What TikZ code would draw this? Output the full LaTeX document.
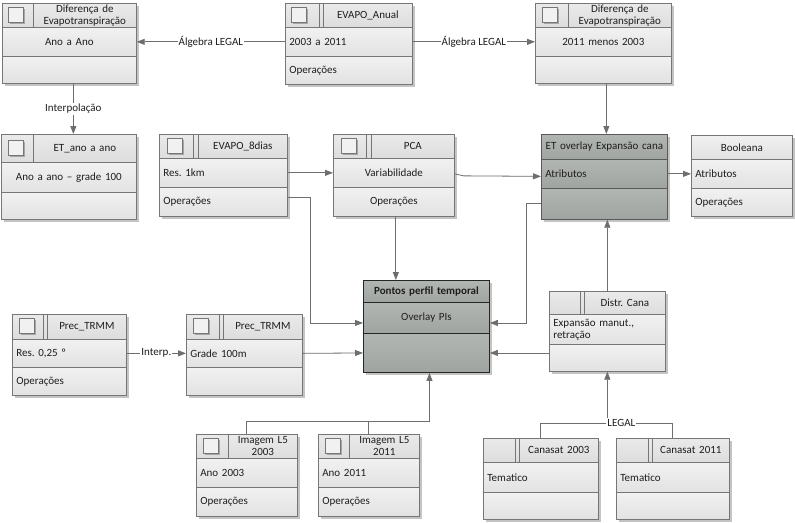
\documentclass[tikz,border=0pt]{standalone}
\usepackage{fontspec}
\setmainfont{Carlito}
\usetikzlibrary{arrows.meta}
\frenchspacing
\definecolor{bordc}{HTML}{767676}
\definecolor{linec}{HTML}{6E6E6E}
\definecolor{shadowc}{HTML}{C4C4C4}
\definecolor{lt}{HTML}{F1F1F1}
\definecolor{lb}{HTML}{E2E2E2}
\definecolor{ht}{HTML}{EAEAEA}
\definecolor{hb}{HTML}{DDDDDD}
\definecolor{dt}{HTML}{B2B6B2}
\definecolor{db}{HTML}{A0A4A0}
\definecolor{txt}{HTML}{1E1E1E}
\newcommand\fnt{\fontsize{11}{11.8}\selectfont}
\newcommand\ucell[7]{%
  \pgfmathsetmacro\cw{#4-#2}\pgfmathsetmacro\ch{#5-#3}\pgfmathsetmacro\tw{#4-#2-8}%
  \node[cellst,#6,minimum width=\cw pt,minimum height=\ch pt,text width=\tw pt,anchor=north west] (#1) at (#2,#3) {#7};}
\newcommand\ushadow[4]{\fill[shadowc] (#1+3,#2+3) rectangle (#3+3,#4+3);}
\newcommand\uicon[2]{%
  \fill[gray!70] (#1-7,#2-6) rectangle (#1+8,#2+9);
  \draw[bordc,fill=lt,line width=0.6pt] (#1-9,#2-8) rectangle (#1+6,#2+7);}
\newcommand\dline[3]{\draw[bordc,line width=0.7pt] (#1,#2) -- (#1,#3);}
\tikzset{
  cellst/.style={draw=bordc,line width=0.7pt,inner xsep=4pt,inner ysep=0pt,font=\fnt,text=txt,align=left},
  hdr/.style={top color=ht,bottom color=hb},
  body/.style={top color=lt,bottom color=lb},
  dhdr/.style={top color=dt,bottom color=db,draw=black!65},
  dbody/.style={top color=dt,bottom color=db,draw=black!65},
  ctr/.style={align=center},
  conn/.style={draw=linec,line width=0.8pt},
  arr/.style={conn,-{Triangle[length=8pt,width=6pt]},color=linec},
  lbl/.style={fill=white,inner sep=1pt,font=\fnt,text=txt}
}
\begin{document}
\begin{tikzpicture}[x=1pt,y=-1pt]
\fill[white] (0,0) rectangle (795,522);
\useasboundingbox (0,0) rectangle (795,522);

% Diferenca 1
\ushadow{2}{3}{136}{83}
\ucell{dif1I}{2}{3}{33}{27}{hdr}{}
\ucell{dif1T}{33}{3}{136}{27}{hdr,ctr}{Diferença de\\Evapotranspiração}
\ucell{dif1A}{2}{27}{136}{56}{body,ctr}{Ano a Ano}
\ucell{dif1B}{2}{56}{136}{83}{body}{}
\uicon{17}{15}

% EVAPO_Anual
\ushadow{285}{3}{412}{84}
\ucell{anuI}{285}{3}{323}{27}{hdr}{}
\ucell{anuT}{323}{3}{412}{27}{hdr,ctr}{EVAPO\_Anual}
\ucell{anuA}{285}{27}{412}{56}{body}{2003 a 2011}
\ucell{anuB}{285}{56}{412}{84}{body}{Operações}
\dline{319}{3}{27}
\uicon{300}{15}

% Diferenca 2
\ushadow{535}{3}{671}{83}
\ucell{dif2I}{535}{3}{568}{27}{hdr}{}
\ucell{dif2T}{568}{3}{671}{27}{hdr,ctr}{Diferença de\\Evapotranspiração}
\ucell{dif2A}{535}{27}{671}{56}{body,ctr}{2011 menos 2003}
\ucell{dif2B}{535}{56}{671}{83}{body}{}
\uicon{551}{15}

% ET_ano a ano
\ushadow{1}{134}{136}{219}
\ucell{etaI}{1}{134}{33}{162}{hdr}{}
\ucell{etaT}{33}{134}{136}{162}{hdr,ctr}{ET\_ano a ano}
\ucell{etaA}{1}{162}{136}{192}{body,ctr}{Ano a ano – grade 100}
\ucell{etaB}{1}{192}{136}{219}{body}{}
\uicon{17}{148}

% EVAPO_8dias
\ushadow{159}{134}{287}{216}
\ucell{e8I}{159}{134}{198}{158}{hdr}{}
\ucell{e8T}{198}{134}{287}{158}{hdr,ctr}{EVAPO\_8dias}
\ucell{e8A}{159}{158}{287}{187}{body}{Res. 1km}
\ucell{e8B}{159}{187}{287}{216}{body}{Operações}
\dline{193}{134}{158}
\uicon{176}{146}

% PCA
\ushadow{333}{134}{454}{216}
\ucell{pcaI}{333}{134}{371}{158}{hdr}{}
\ucell{pcaT}{371}{134}{454}{158}{hdr,ctr}{PCA}
\ucell{pcaA}{333}{158}{454}{187}{body,ctr}{Variabilidade}
\ucell{pcaB}{333}{187}{454}{216}{body,ctr}{Operações}
\dline{366}{134}{158}
\uicon{350}{146}

% ET overlay
\ushadow{541}{134}{667}{219}
\ucell{etovT}{541}{134}{667}{159}{dhdr,ctr}{ET overlay Expansão cana}
\ucell{etovA}{541}{159}{667}{188}{dbody}{Atributos}
\ucell{etovB}{541}{188}{667}{219}{dbody}{}

% Booleana
\ushadow{691}{135}{792}{216}
\ucell{boolT}{691}{135}{792}{159}{body,ctr}{Booleana}
\ucell{boolA}{691}{159}{792}{188}{body}{Atributos}
\ucell{boolB}{691}{188}{792}{216}{body}{Operações}

% Prec_TRMM 1
\ushadow{12}{314}{126}{395}
\ucell{p1I}{12}{314}{47}{339}{hdr}{}
\ucell{p1T}{47}{314}{126}{339}{hdr,ctr}{Prec\_TRMM}
\ucell{p1A}{12}{339}{126}{367}{body}{Res. 0,25 º}
\ucell{p1B}{12}{367}{126}{395}{body}{Operações}
\dline{43}{314}{339}
\uicon{28}{326}

% Prec_TRMM 2
\ushadow{186}{314}{302}{395}
\ucell{p2I}{186}{314}{223}{339}{hdr}{}
\ucell{p2T}{223}{314}{302}{339}{hdr,ctr}{Prec\_TRMM}
\ucell{p2A}{186}{339}{302}{367}{body}{Grade 100m}
\ucell{p2B}{186}{367}{302}{395}{body}{}
\dline{219}{314}{339}
\uicon{202}{326}

% Pontos perfil temporal
\ushadow{363}{280}{489}{372}
\ucell{pontT}{363}{280}{489}{302}{dhdr,ctr,draw=black!85,line width=0.9pt}{\textbf{Pontos perfil temporal}}
\ucell{pontA}{363}{302}{489}{333}{dbody,ctr,draw=black!85,line width=0.9pt}{Overlay PIs}
\ucell{pontB}{363}{333}{489}{372}{dbody,draw=black!85,line width=0.9pt}{}

% Distr. Cana
\ushadow{549}{291}{665}{371}
\ucell{disI}{549}{291}{584}{314}{hdr}{}
\ucell{disT}{584}{291}{665}{314}{hdr,ctr}{Distr. Cana}
\ucell{disA}{549}{314}{665}{344}{body}{Expansão manut.,\\retração}
\ucell{disB}{549}{344}{665}{371}{body}{}
\dline{580}{291}{314}

% Imagem L5 2003
\ushadow{196}{434}{297}{516}
\ucell{i1I}{196}{434}{228}{458}{hdr}{}
\ucell{i1T}{228}{434}{297}{458}{hdr,ctr}{Imagem L5\\2003}
\ucell{i1A}{196}{458}{297}{487}{body}{Ano 2003}
\ucell{i1B}{196}{487}{297}{516}{body}{Operações}
\uicon{212}{446}

% Imagem L5 2011
\ushadow{318}{434}{419}{516}
\ucell{i2I}{318}{434}{349}{458}{hdr}{}
\ucell{i2T}{349}{434}{419}{458}{hdr,ctr}{Imagem L5\\2011}
\ucell{i2A}{318}{458}{419}{487}{body}{Ano 2011}
\ucell{i2B}{318}{487}{419}{516}{body}{Operações}
\uicon{334}{446}

% Canasat 2003
\ushadow{483}{438}{598}{519}
\ucell{c1I}{483}{438}{519}{462}{hdr}{}
\ucell{c1T}{519}{438}{598}{462}{hdr,ctr}{Canasat 2003}
\ucell{c1A}{483}{462}{598}{492}{body}{Tematico}
\ucell{c1B}{483}{492}{598}{519}{body}{}
\dline{515}{438}{462}

% Canasat 2011
\ushadow{616}{438}{729}{519}
\ucell{c2I}{616}{438}{652}{462}{hdr}{}
\ucell{c2T}{652}{438}{729}{462}{hdr,ctr}{Canasat 2011}
\ucell{c2A}{616}{462}{729}{492}{body}{Tematico}
\ucell{c2B}{616}{492}{729}{519}{body}{}
\dline{648}{438}{462}

% ---- connectors ----
\draw[arr] (anuA.west) -- node[lbl] (lab1) {Álgebra LEGAL} (dif1A.east);
\draw[arr] (anuA.east) -- node[lbl] (lab2) {Álgebra LEGAL} (dif2A.west);
\coordinate (d1b) at ([xshift=4pt]dif1B.south);
\draw[arr] (d1b) -- node[lbl] (lab3) {Interpolação} (d1b |- etaT.north);
\coordinate (d2b) at ([xshift=3pt]dif2B.south);
\draw[arr] (d2b) -- (d2b |- etovT.north);
\draw[arr] (e8A.east) -- (pcaA.west);
\draw[arr] ([yshift=-1pt]pcaA.east) -- ++(9,2) -- ([yshift=-2.5pt]etovA.west);
\draw[arr] (etovA.east) -- (boolA.west);
\draw[arr] ([yshift=4pt]e8B.east) -- ++(23,0) |- ([yshift=-5pt]pontA.west);
\coordinate (pcb) at ([xshift=2pt]pcaB.south);
\draw[arr] (pcb) -- (pcb |- pontT.north);
\draw[arr] (etovB.west) -- ++(-15,0) |- ([yshift=-5pt]pontA.east);
\draw[arr] (p1A.east) -- node[lbl] (lab4) {Interp.} (p2A.west);
\draw[arr] (p2A.east) -- (pontB.west);
\draw[arr] (pontB.east -| disB.west) -- (pontB.east);
\coordinate (dtop) at (disA.center |- disT.north);
\draw[arr] (dtop) -- (dtop |- etovB.south);
\coordinate (i1t) at (i1A.center |- i1T.north);
\coordinate (i2t) at (i2A.center |- i2T.north);
\coordinate (pb) at ([xshift=3pt]pontB.south);
\path (i1t) ++(0,-13) coordinate (ij);
\draw[arr] (i1t) -- (ij) -| (pb);
\draw[conn] (i2t) -- (i2t |- ij);
\coordinate (c1t) at (c1A.center |- c1T.north);
\coordinate (c2t) at (c2A.center |- c2T.north);
\path (c1t) ++(0,-15) coordinate (cj);
\draw[conn] (c1t) -- (cj) -| (c2t);
\coordinate (lg) at (disB.south |- cj);
\draw[arr] (lg) -- (disB.south);
\node[lbl] (legal) at ([xshift=14pt]lg) {LEGAL};
\end{tikzpicture}
\end{document}
